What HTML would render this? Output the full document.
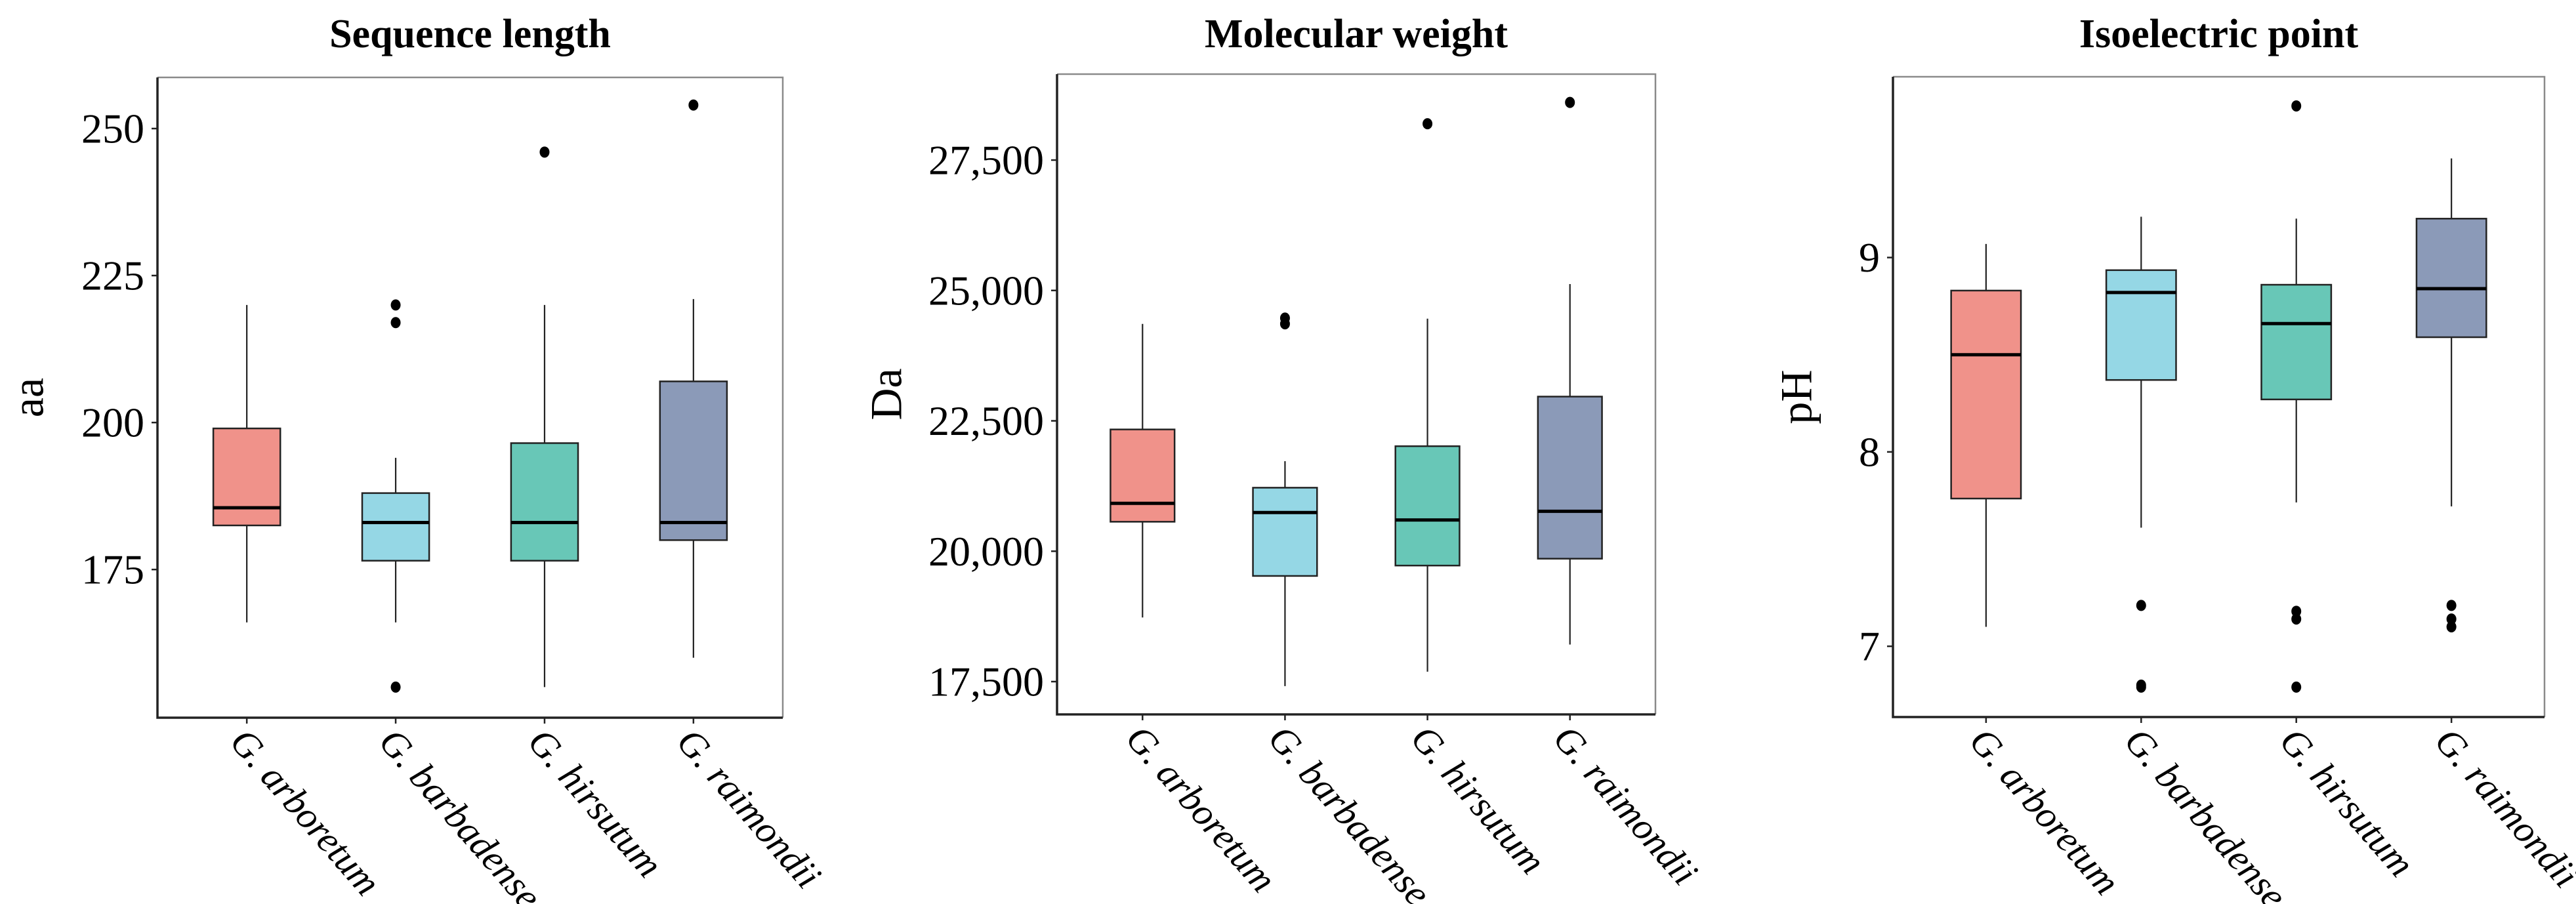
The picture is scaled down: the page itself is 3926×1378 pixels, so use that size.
<!DOCTYPE html>
<html><head><meta charset="utf-8">
<style>
html,body{margin:0;padding:0;background:#fff;}
svg{display:block;}
text{font-family:"Liberation Serif",serif;fill:#000;}
</style></head>
<body>
<svg id="fig" width="3926" height="1378" viewBox="0 0 3926 1378" xmlns="http://www.w3.org/2000/svg"></svg>
<script>
const categories = ["G. arboretum","G. barbadense","G. hirsutum","G. raimondii"];
const colors = ["#F0928A","#95D7E5","#68C7B7","#8B9AB8"];

// Sequence length: [low whisker, Q1, median, Q3, high whisker]
const seqStats = [[166,182.5,185.5,199,220],[166,176.5,183,188,194],[155,176.5,183,196.5,220],[160,180,183,207,221]];
const seqOutliers = [[],[220,217,155],[246],[254]];
const seqTicks = [175,200,225,250];
const seqTickLabels = ["175","200","225","250"];

const mwStats = [[18729,20565,20919,22335,24359],[17413,19526,20742,21218,21727],[17690,19725,20599,22014,24459],[18210,19857,20765,22965,25122]];
const mwOutliers = [[],[24470,24360],[28197],[28606]];
const mwTicks = [17500,20000,22500,25000,27500];
const mwTickLabels = ["17,500","20,000","22,500","25,000","27,500"];

const piStats = [[7.10,7.76,8.50,8.83,9.07],[7.61,8.37,8.82,8.935,9.21],[7.74,8.27,8.66,8.86,9.20],[7.72,8.59,8.84,9.20,9.51]];
const piOutliers = [[],[7.21,6.80,6.79],[9.78,7.18,7.14,6.79],[7.21,7.14,7.10]];
const piTicks = [7,8,9];
const piTickLabels = ["7","8","9"];

const NS = "http://www.w3.org/2000/svg";
const svg = document.getElementById("fig");
function mk(tag, attrs, parent){
  const e = document.createElementNS(NS, tag);
  for (const k in attrs) e.setAttribute(k, attrs[k]);
  (parent||svg).appendChild(e);
  return e;
}

function panel(key, cfg, stats, outliers, ticks, tickLabels){
  const g = mk("g", {});
  
  
  const {x0,x1,y0,y1,dmin,dmax,title,ytitle,ytx} = cfg;
  const yS = v => y1 - (v - dmin) / (dmax - dmin) * (y1 - y0);
  const step = (x1 - x0) / 4.2;
  const xS = i => x0 + (0.6 + i) * step;
  const bw = step * 0.45;

  const t = mk("text", {x:(x0+x1)/2, y:72, "text-anchor":"middle", "font-size":62, "font-weight":"bold"}, g);
  t.textContent = title;
  
  

  const yt = mk("text", {x:ytx, y:(y0+y1)/2, "text-anchor":"middle", "font-size":68, transform:`rotate(-90 ${ytx} ${(y0+y1)/2})`, "dominant-baseline":"middle"}, g);
  yt.textContent = ytitle;
  
  

  const fr = mk("path", {d:`M${x0} ${y0} H${x1} V${y1}`, fill:"none", stroke:"#8a8a8a", "stroke-width":2.5}, g);
  
  

  ticks.forEach((v, i) => {
    const y = yS(v);
    const tk = mk("line", {x1:x0-9, x2:x0, y1:y, y2:y, stroke:"#222", "stroke-width":2.5}, g);
    
    
    const tl = mk("text", {x:x0-20, y:y, "text-anchor":"end", "dominant-baseline":"central", "font-size":64}, g);
    tl.textContent = tickLabels[i];
    
    
  });

  categories.forEach((c, i) => {
    const x = xS(i), s = stats[i];
    const wh = mk("line", {x1:x, x2:x, y1:yS(s[0]), y2:yS(s[4]), stroke:"#222", "stroke-width":2.2}, g);
    
    
    const bx = mk("rect", {x:x-bw/2, y:yS(s[3]), width:bw, height:yS(s[1])-yS(s[3]), fill:colors[i], stroke:"#222", "stroke-width":2.5}, g);
    
    
    const md = mk("line", {x1:x-bw/2, x2:x+bw/2, y1:yS(s[2]), y2:yS(s[2]), stroke:"#000", "stroke-width":5}, g);
    
    
    outliers[i].forEach(v => {
      const o = mk("ellipse", {cx:x, cy:yS(v), rx:7.5, ry:8.5, fill:"#000"}, g);
      
      
    });
    const xt = mk("line", {x1:x, x2:x, y1:y1, y2:y1+9, stroke:"#222", "stroke-width":2.5}, g);
    
    
    const ax = x - 28, ay = y1 + 38;
    const xl = mk("text", {x:ax, y:ay, "font-size":58, "font-style":"italic", transform:`rotate(49 ${ax} ${ay})`}, g);
    xl.textContent = c;
    
    
  });

  const ax = mk("path", {d:`M${x0} ${y0} V${y1} H${x1}`, fill:"none", stroke:"#222", "stroke-width":3.5}, g);
  
  
}

panel("sequence-length", {x0:240,x1:1193,y0:118,y1:1094,dmin:149.8,dmax:258.7,title:"Sequence length",ytitle:"aa",ytx:50}, seqStats, seqOutliers, seqTicks, seqTickLabels);
panel("molecular-weight", {x0:1611,x1:2523,y0:113,y1:1089,dmin:16871,dmax:29148,title:"Molecular weight",ytitle:"Da",ytx:1358}, mwStats, mwOutliers, mwTicks, mwTickLabels);
panel("isoelectric-point", {x0:2885,x1:3878,y0:117,y1:1093,dmin:6.636,dmax:9.93,title:"Isoelectric point",ytitle:"pH",ytx:2745}, piStats, piOutliers, piTicks, piTickLabels);
</script>
</body></html>
